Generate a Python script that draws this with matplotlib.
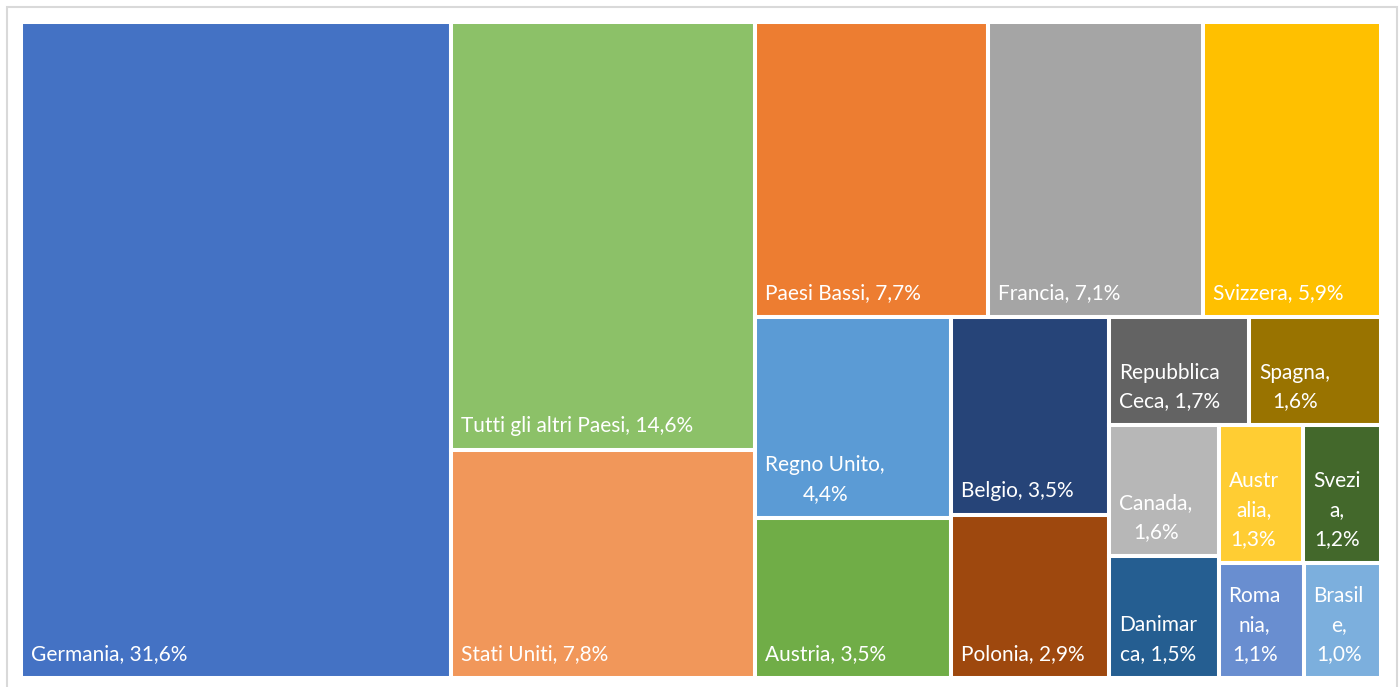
import matplotlib
matplotlib.use("Agg")
import matplotlib.pyplot as plt
from matplotlib.patches import Rectangle
from matplotlib.font_manager import FontProperties

# quote per paese (%), nell'ordine del foglio
paesi = ["Germania", "Paesi Bassi", "Francia", "Svizzera", "Regno Unito", "Austria",
         "Belgio", "Polonia", "Repubblica Ceca", "Spagna", "Danimarca", "Svezia",
         "Romania", "Stati Uniti", "Canada", "Australia", "Brasile", "Tutti gli altri Paesi"]
quote = [31.6, 7.7, 7.1, 5.9, 4.4, 3.5, 3.5, 2.9, 1.7, 1.6, 1.5, 1.2, 1.1, 7.8, 1.6, 1.3, 1.0, 14.6]
colori = ["#4472C4", "#ED7D31", "#A5A5A5", "#FFC000", "#5B9BD5", "#70AD47",
          "#264478", "#9E480E", "#636363", "#997300", "#255E91", "#43682B",
          "#698ED0", "#F1975A", "#B7B7B7", "#FFCD33", "#7CAFDD", "#8CC168"]

W, H = 1360, 656      # area del treemap in pixel
PAD_X, PAD_Y = 10, 14
SPAZIATURA = 1.07     # le etichette vanno a capo come se il testo fosse un po' piu' largo
FONT = FontProperties(family=["Lato", "DejaVu Sans"], size=15)


def rapporto_medio(riga, lato):
    spessore = sum(riga) / lato
    r = [max(spessore / (v / spessore), (v / spessore) / spessore) for v in riga]
    return sum(r) / len(r)


def squarify(valori, x, y, w, h):
    rects = []
    i = 0
    while i < len(valori):
        lato = min(w, h)
        riga = [valori[i]]
        migliore = rapporto_medio(riga, lato)
        j = i + 1
        while j < len(valori):
            prova = riga + [valori[j]]
            r = rapporto_medio(prova, lato)
            if r > migliore:
                break
            riga, migliore = prova, r
            j += 1
        s = sum(riga)
        if w >= h:   # colonna a sinistra
            cw = s / h
            yy = y
            for v in riga:
                rects.append((x, yy, cw, v / cw))
                yy += v / cw
            x += cw
            w -= cw
        else:        # riga in alto
            rh = s / w
            xx = x
            for v in riga:
                rects.append((xx, y, v / rh, rh))
                xx += v / rh
            y += rh
            h -= rh
        i = j
    return rects


fig = plt.figure(figsize=(14, 6.87), dpi=100)
ax = fig.add_axes([21 / 1400, 9 / 687, W / 1400, H / 687])
ax.set_xlim(0, W)
ax.set_ylim(H, 0)
ax.axis("off")

# bordo dell'area grafico
fig.patches.append(Rectangle((7 / 1400, -0.05), 1390 / 1400, 1 - 7 / 687 + 0.05,
                             transform=fig.transFigure, fill=False,
                             edgecolor="#D9D9D9", lw=1.5))

renderer = fig.canvas.get_renderer()


def larghezza(s):
    w, _, _ = renderer.get_text_width_height_descent(s, FONT, ismath=False)
    return w * SPAZIATURA


def a_capo(testo, spazio):
    righe = []
    corrente = ""
    for parola in testo.split(" "):
        prova = parola if not corrente else corrente + " " + parola
        if larghezza(prova) <= spazio:
            corrente = prova
            continue
        if corrente:
            righe.append(corrente)
            corrente = ""
        while larghezza(parola) > spazio and len(parola) > 1:
            k = len(parola) - 1
            while k > 1 and larghezza(parola[:k]) > spazio:
                k -= 1
            righe.append(parola[:k])
            parola = parola[k:]
        corrente = parola
    if corrente:
        righe.append(corrente)
    return "\n".join(righe)


# ordinamento per quota decrescente (stabile)
ordine = sorted(range(len(quote)), key=lambda k: -quote[k])
valori = [quote[k] for k in ordine]
scala = W * H / sum(valori)
rects = squarify([v * scala for v in valori], 0, 0, W, H)

for k, (x, y, w, h) in zip(ordine, rects):
    ax.add_patch(Rectangle((x, y), w, h, facecolor=colori[k], edgecolor="white",
                           lw=2.9, joinstyle="miter"))
    etichetta = f"{paesi[k]}, {quote[k]:.1f}".replace(".", ",") + "%"
    etichetta = a_capo(etichetta, w - 2 * PAD_X - 2)
    ax.text(x + PAD_X, y + h - PAD_Y, etichetta, ha="left", va="bottom",
            multialignment="center", color="white", fontproperties=FONT,
            linespacing=1.55)

fig.savefig("out.png", dpi=100)
